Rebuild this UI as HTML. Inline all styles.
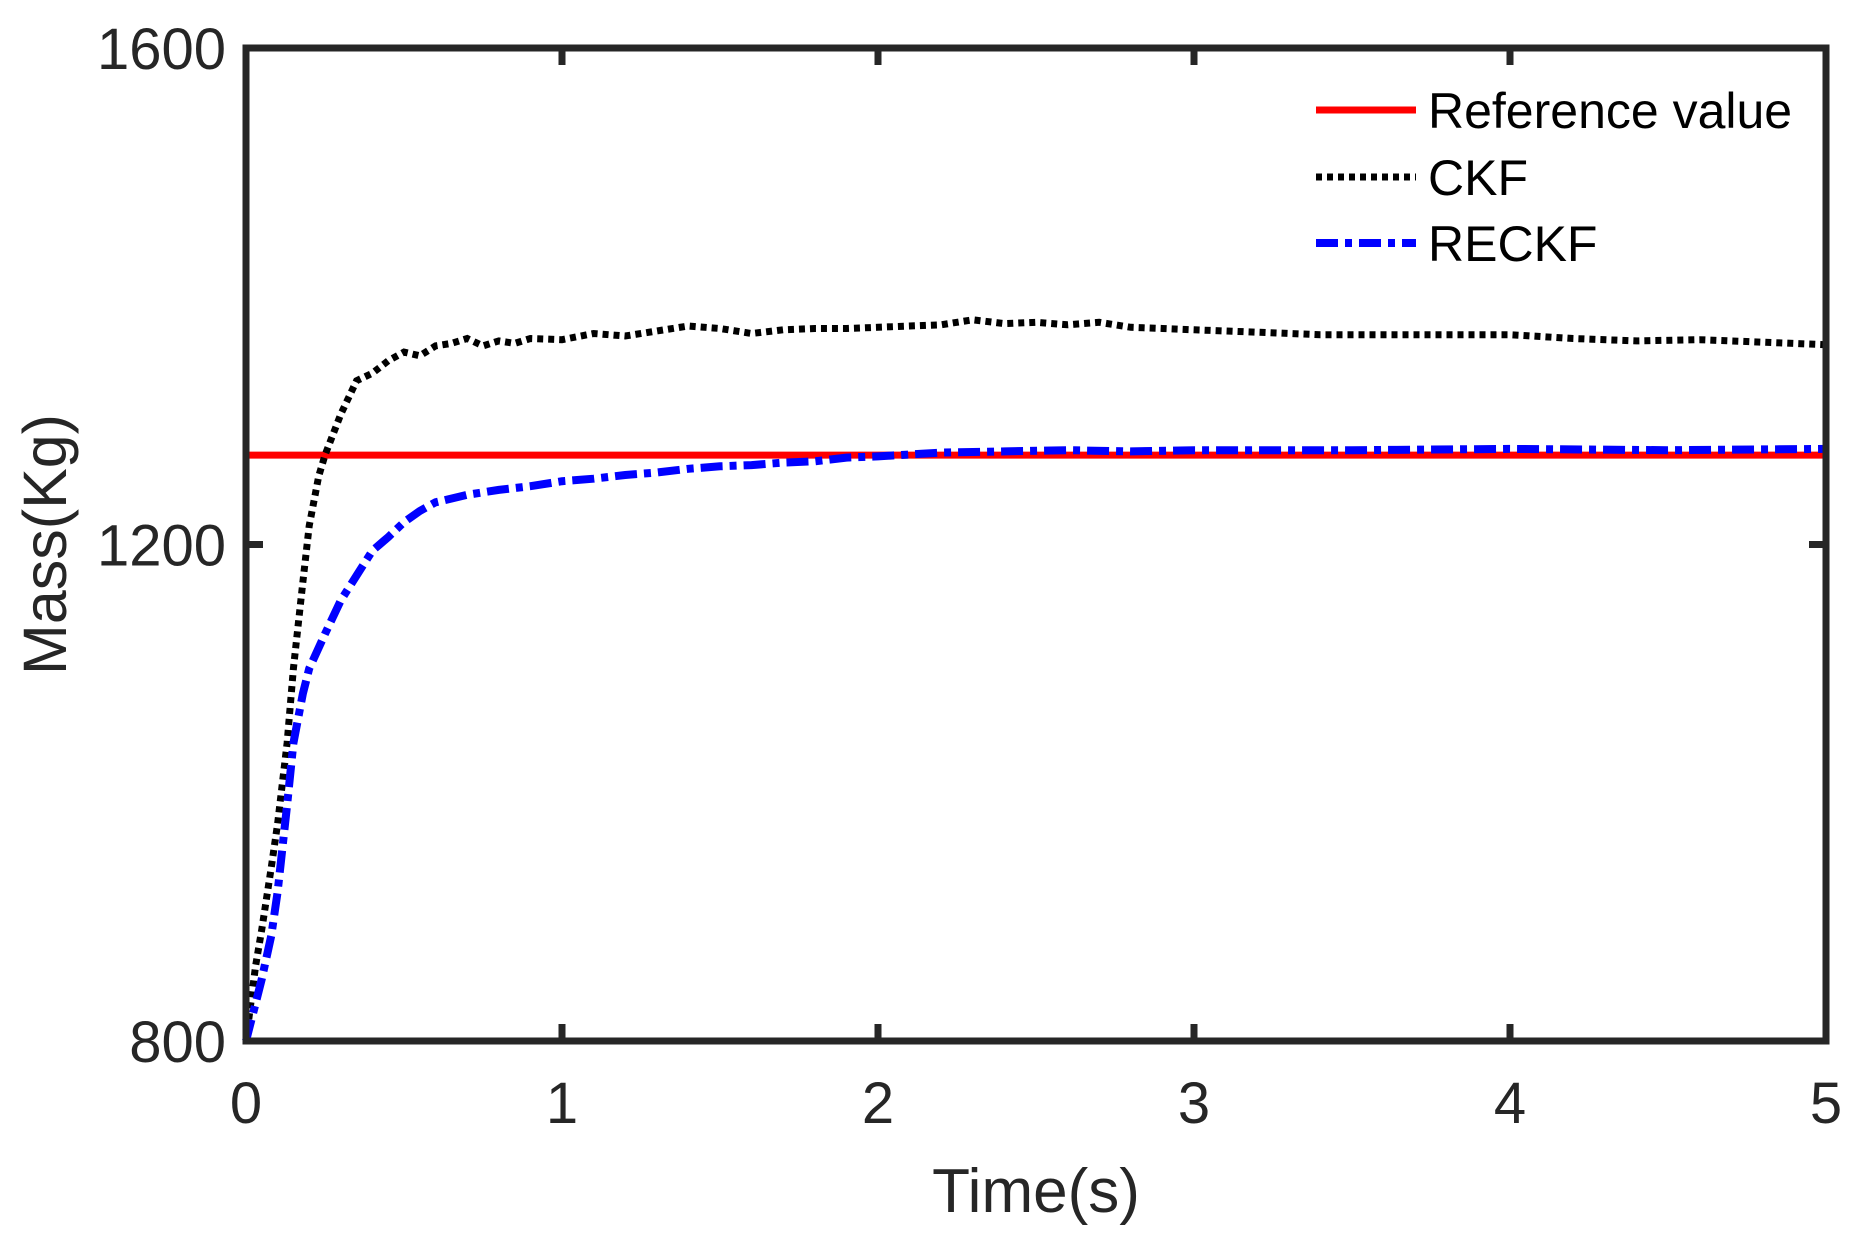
<!DOCTYPE html>
<html><head><meta charset="utf-8"><style>
html,body{margin:0;padding:0;background:#fff;}
svg{display:block;font-family:"Liberation Sans",Arial,sans-serif;}
</style></head><body>
<svg id="chart" width="1875" height="1249" viewBox="0 0 1875 1249" xmlns="http://www.w3.org/2000/svg">
<g id="plot"></g>
<g id="axes"></g>
</svg>
<script>
const xTicks=[0,1,2,3,4,5];
const yTicks=[800,1200,1600];
const refValue=1272;
const ckfT=[0,0.03,0.05,0.08,0.1,0.13,0.15,0.18,0.2,0.23,0.25,0.3,0.35,0.4,0.45,0.5,0.55,0.6,0.65,0.7,0.75,0.8,0.85,0.9,1.0,1.1,1.2,1.3,1.4,1.5,1.6,1.7,1.8,1.9,2.0,2.1,2.2,2.3,2.4,2.5,2.6,2.7,2.8,2.9,3.0,3.2,3.4,3.6,3.8,4.0,4.2,4.4,4.6,4.8,5.0];
const ckfV=[800,860,890,940,975,1040,1100,1170,1215,1255,1272,1305,1332,1338,1348,1355,1352,1360,1362,1366,1360,1364,1362,1366,1365,1370,1368,1372,1376,1374,1370,1373,1374,1374,1375,1376,1377,1381,1378,1379,1377,1379,1375,1374,1373,1371,1369,1369,1369,1369,1366,1364,1365,1363,1361];
const reckfT=[0,0.03,0.05,0.08,0.1,0.13,0.15,0.18,0.2,0.25,0.3,0.35,0.4,0.45,0.5,0.55,0.6,0.7,0.8,0.9,1.0,1.1,1.2,1.3,1.4,1.5,1.6,1.7,1.8,1.9,2.0,2.2,2.4,2.6,2.8,3.0,3.5,4.0,4.5,5.0];
const reckfV=[800,830,850,885,920,990,1040,1080,1100,1128,1155,1175,1195,1206,1218,1227,1234,1240,1244,1247,1251,1253,1256,1258,1261,1263,1264,1266,1267,1270,1271,1274,1275,1276,1275,1276,1276,1277,1276,1277];
const X0=246,X1=1826,Y0=1041,Y1=48,XMIN=0,XMAX=5,YMIN=800,YMAX=1600;
function sx(v){return X0+(v-XMIN)/(XMAX-XMIN)*(X1-X0);}
function sy(v){return Y0-(v-YMIN)/(YMAX-YMIN)*(Y0-Y1);}
const NS="http://www.w3.org/2000/svg";
function mk(tag,attrs,parent){const e=document.createElementNS(NS,tag);for(const k in attrs)e.setAttribute(k,attrs[k]);parent.appendChild(e);return e;}
const plot=document.getElementById('plot'),axes=document.getElementById('axes');
function pathFrom(ts,vs){return ts.map((t,i)=>(i?'L':'M')+sx(t).toFixed(1)+','+sy(vs[i]).toFixed(1)).join(' ');}
const ref=mk('line',{x1:sx(0),x2:sx(5),y1:sy(refValue),y2:sy(refValue),stroke:'#ff0000','stroke-width':7},plot);


const ck=mk('path',{d:pathFrom(ckfT,ckfV),fill:'none',stroke:'#000','stroke-width':7,'stroke-dasharray':'6 5'},plot);


const rk=mk('path',{d:pathFrom(reckfT,reckfV),fill:'none',stroke:'#0000ff','stroke-width':8,'stroke-dasharray':'22 7 7 7'},plot);


const box=mk('rect',{x:X0,y:Y1,width:X1-X0,height:Y0-Y1,fill:'none',stroke:'#262626','stroke-width':7},axes);


xTicks.forEach(t=>{
  const x=sx(t);
  const tk=mk('path',{d:`M${x},${Y0}V${Y0-17}M${x},${Y1}V${Y1+17}`,stroke:'#262626','stroke-width':7},axes);
  
  
  const lb=mk('text',{x:x,y:Y0+82,'text-anchor':'middle','font-size':58,fill:'#262626'},axes);
  lb.textContent=t;
  
  
});
yTicks.forEach(t=>{
  const y=sy(t);
  const tk=mk('path',{d:`M${X0},${y}H${X0+17}M${X1},${y}H${X1-17}`,stroke:'#262626','stroke-width':7},axes);
  
  
  const lb=mk('text',{x:X0-20,y:y+21,'text-anchor':'end','font-size':58,fill:'#262626'},axes);
  lb.textContent=t;
  
  
});
const xt=mk('text',{x:(X0+X1)/2,y:1212,'text-anchor':'middle','font-size':62,fill:'#262626'},axes);
xt.textContent='Time(s)';


const yt=mk('text',{x:0,y:0,'text-anchor':'middle','font-size':61,fill:'#262626',transform:`translate(66,${(Y0+Y1)/2}) rotate(-90)`},axes);
yt.textContent='Mass(Kg)';


const legend=[['Reference value','#ff0000',7,'none',110],['CKF','#000',7,'6 5',177],['RECKF','#0000ff',8,'22 7 7 7',243]];
legend.forEach(l=>{
  const g=mk('g',{},axes);
  
  
  mk('line',{x1:1316,x2:1416,y1:l[4],y2:l[4],stroke:l[1],'stroke-width':l[2],'stroke-dasharray':l[3]},g);
  const t=mk('text',{x:1428,y:l[4]+18,'font-size':50,fill:'#000'},g);
  t.textContent=l[0];
});
</script>
</body></html>
